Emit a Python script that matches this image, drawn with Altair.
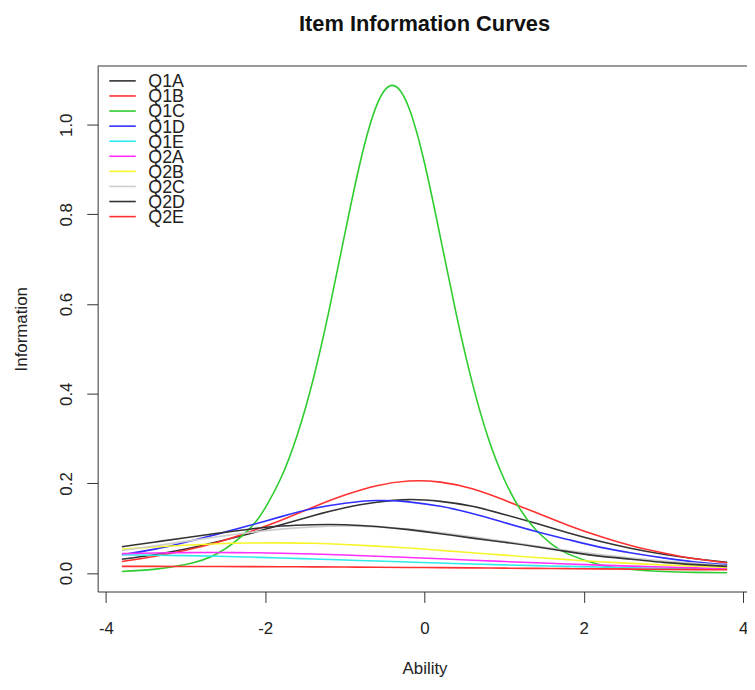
import altair as alt
import pandas as pd

# ---- data ----
items = ["Q1A", "Q1B", "Q1C", "Q1D", "Q1E", "Q2A", "Q2B", "Q2C", "Q2D", "Q2E"]
item_colors = ["#333333", "#FF3030", "#2ECC2E", "#3030FF", "#2EEAEA",
               "#FF30FF", "#F5F52A", "#CDCDCD", "#333333", "#FF3030"]

theta = [-3.8, -3.4, -3.0, -2.6, -2.2, -1.8, -1.4, -1.0, -0.6, -0.2,
         0.2, 0.6, 1.0, 1.4, 1.8, 2.2, 2.6, 3.0, 3.4, 3.8]

q1a = [0.031, 0.041, 0.054, 0.070, 0.088, 0.108, 0.128, 0.146, 0.158, 0.164,
       0.160, 0.149, 0.131, 0.111, 0.090, 0.071, 0.055, 0.042, 0.032, 0.024]
q1b = [0.026, 0.037, 0.051, 0.069, 0.092, 0.118, 0.147, 0.174, 0.195, 0.2055,
       0.203, 0.188, 0.163, 0.135, 0.107, 0.082, 0.061, 0.045, 0.032, 0.023]
q1d = [0.041, 0.053, 0.069, 0.087, 0.106, 0.126, 0.144, 0.156, 0.162, 0.159,
       0.149, 0.133, 0.113, 0.093, 0.075, 0.058, 0.045, 0.034, 0.025, 0.019]
q1e = [0.041, 0.040, 0.039, 0.0375, 0.0358, 0.0338, 0.0316, 0.0293, 0.0270, 0.0247,
       0.0225, 0.0204, 0.0185, 0.0167, 0.0150, 0.0135, 0.0121, 0.0108, 0.0097, 0.0087]
q2a = [0.0435, 0.0450, 0.0458, 0.0460, 0.0455, 0.0443, 0.0426, 0.0404, 0.0377, 0.0349,
       0.0320, 0.0289, 0.0259, 0.0230, 0.0204, 0.0179, 0.0156, 0.0135, 0.0117, 0.0100]
q2b = [0.0534, 0.0582, 0.0623, 0.0654, 0.0672, 0.0675, 0.0665, 0.0640, 0.0603, 0.0559,
       0.0508, 0.0455, 0.0401, 0.0349, 0.0301, 0.0255, 0.0217, 0.0182, 0.0152, 0.0127]
q2c = [0.0506, 0.0604, 0.0709, 0.0812, 0.0905, 0.0982, 0.1032, 0.1050, 0.1032, 0.0982,
       0.0905, 0.0812, 0.0709, 0.0604, 0.0506, 0.0417, 0.0339, 0.0272, 0.0218, 0.0172]
q2d = [0.059, 0.069, 0.079, 0.089, 0.098, 0.105, 0.108, 0.108, 0.104, 0.097,
       0.088, 0.078, 0.069, 0.059, 0.048, 0.038, 0.031, 0.024, 0.019, 0.015]
q2e = [0.0150, 0.0150, 0.0149, 0.0148, 0.0146, 0.0143, 0.0140, 0.0136, 0.0132, 0.0127,
       0.0122, 0.0117, 0.0111, 0.0106, 0.0100, 0.0095, 0.0089, 0.0084, 0.0079, 0.0074]

theta_q1c = [-3.8, -3.4, -3.0, -2.6, -2.2, -2.0, -1.8, -1.6, -1.4, -1.2,
             -1.0, -0.8, -0.6, -0.4, -0.2, 0.0, 0.2, 0.4, 0.6, 0.8,
             1.0, 1.2, 1.4, 1.6, 1.8, 2.2, 2.6, 3.0, 3.4, 3.8]
q1c = [0.0037, 0.0084, 0.0192, 0.0437, 0.0982, 0.1455, 0.2132, 0.3069, 0.4308, 0.5848,
       0.7571, 0.9220, 1.0438, 1.0878, 1.0395, 0.9146, 0.7484, 0.5765, 0.4242, 0.3011,
       0.2093, 0.1427, 0.0963, 0.0644, 0.0429, 0.0188, 0.0082, 0.0036, 0.0016, 0.0007]

x_ticks = [-4, -2, 0, 2, 4]
y_ticks = [0.0, 0.2, 0.4, 0.6, 0.8, 1.0]
chart_title = "Item Information Curves"

series = {
    "Q1A": (theta, q1a), "Q1B": (theta, q1b), "Q1C": (theta_q1c, q1c),
    "Q1D": (theta, q1d), "Q1E": (theta, q1e), "Q2A": (theta, q2a),
    "Q2B": (theta, q2b), "Q2C": (theta, q2c), "Q2D": (theta, q2d),
    "Q2E": (theta, q2e),
}
rows = []
for k, name in enumerate(items):
    xs, ys = series[name]
    for x, y in zip(xs, ys):
        rows.append({"item": name, "k": k, "Ability": x, "Information": y})
df = pd.DataFrame(rows)
legend_df = pd.DataFrame({"item": items})

FONT = "Liberation Sans"
INK = "#333333"
TXT = "#222222"

x_scale = alt.Scale(domain=[-4.104, 4.104], range=[0, 658.4], nice=False, zero=False)
y_scale = alt.Scale(domain=[-0.041, 1.131], nice=False, zero=False)
color_scale = alt.Scale(domain=items, range=item_colors)
legend_y = alt.Y("item:N", sort=items, axis=None,
                 scale=alt.Scale(type="point", range=[15, 151.7], padding=0))

lines = alt.Chart(df).mark_line(interpolate="natural", strokeWidth=1.6).encode(
    x=alt.X("Ability:Q", scale=x_scale,
            axis=alt.Axis(values=x_ticks, labelExpr="datum.value + ''", grid=False,
                          title="Ability",
                          domainColor=INK, tickColor=INK, tickSize=11,
                          labelFont=FONT, labelFontSize=17, labelColor=TXT,
                          labelBaseline="alphabetic", labelPadding=31,
                          labelFlush=False, labelOverlap=False,
                          titleFont=FONT, titleFontSize=17, titleFontWeight="normal",
                          titleColor=TXT, titleBaseline="alphabetic",
                          titleAlign="center", titleX=329.2, titleY=82.7)),
    y=alt.Y("Information:Q", scale=y_scale,
            axis=alt.Axis(values=y_ticks, format=".1f", grid=False, title="Information",
                          domainColor=INK, tickColor=INK, tickSize=11,
                          labelFont=FONT, labelFontSize=17, labelColor=TXT,
                          labelAngle=270, labelAlign="center", labelBaseline="alphabetic",
                          labelPadding=15.6, labelFlush=False, labelOverlap=False,
                          titleFont=FONT, titleFontSize=17, titleFontWeight="normal",
                          titleColor=TXT, titleAngle=270, titleAlign="center",
                          titleBaseline="alphabetic", titleX=-71.6, titleY=264.65)),
    color=alt.Color("item:N", sort=items, scale=color_scale, legend=None),
    detail="item:N",
    order="k:Q",
)

legend_lines = alt.Chart(legend_df).mark_rule(strokeWidth=1.6).encode(
    y=legend_y,
    x=alt.value(11.7), x2=alt.value(38.4),
    color=alt.Color("item:N", sort=items, scale=color_scale, legend=None),
)
legend_text = alt.Chart(legend_df).mark_text(
    font=FONT, fontSize=18, color=TXT, align="left", baseline="middle", dy=1.5
).encode(y=legend_y, x=alt.value(51), text="item:N")

top_edge = alt.Chart(pd.DataFrame({"edge": [0]})).mark_rule(color=INK, strokeWidth=1).encode(
    x=alt.value(0), x2=alt.value(700), y=alt.value(0)
)

title_text = alt.Chart(pd.DataFrame({"t": [chart_title]})).mark_text(
    font=FONT, fontSize=22, fontWeight="bold", color="#111111",
    align="center", baseline="alphabetic"
).encode(text="t:N", x=alt.value(329.2), y=alt.value(-35.5))

chart = alt.layer(lines, legend_lines, legend_text, top_edge, title_text).resolve_scale(
    y="independent"
).properties(
    width=648,
    height=529.3,
    autosize=alt.AutoSizeParams(type="none"),
    padding={"left": 90.3, "top": 56, "right": 6, "bottom": 85},
).configure_view(stroke=None)

chart.save("out.html", embed_options={"renderer": "svg", "actions": False})
